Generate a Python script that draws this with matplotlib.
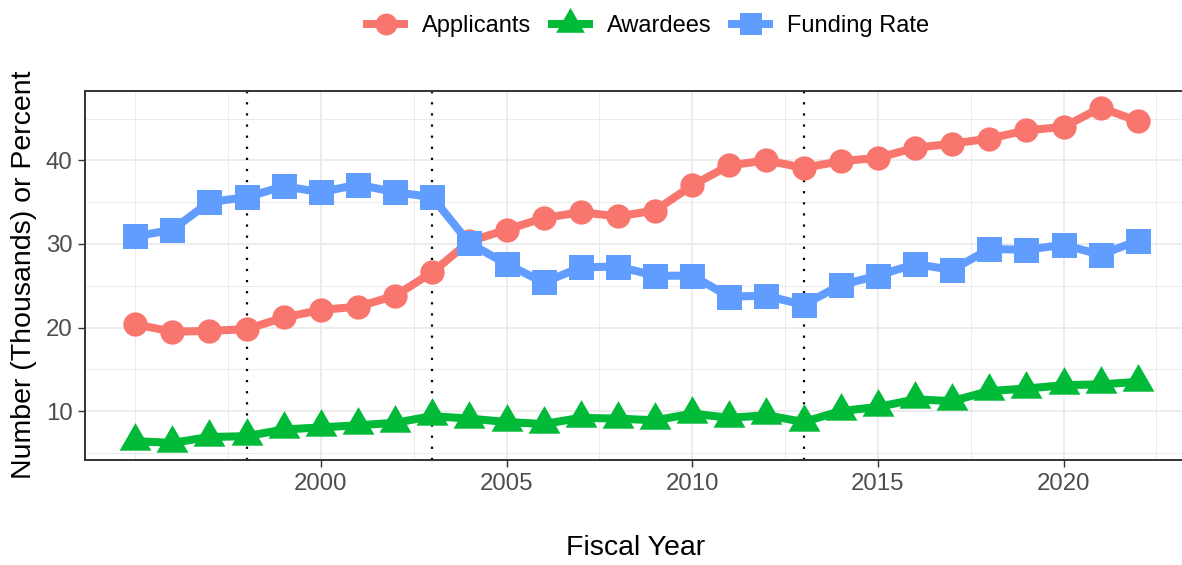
import matplotlib
matplotlib.use("Agg")
import matplotlib.pyplot as plt
from matplotlib.lines import Line2D
from matplotlib.ticker import MultipleLocator, FixedLocator
import numpy as np

plt.rcParams["font.family"] = ["Liberation Sans", "DejaVu Sans"]

# ===== DATA =====
years = list(range(1995, 2023))
applicants = [20.4, 19.5, 19.6, 19.8, 21.2, 22.1, 22.5, 23.8, 26.6, 30.3,
              31.7, 33.1, 33.8, 33.3, 34.0, 37.0, 39.4, 40.0, 39.1, 39.9,
              40.3, 41.5, 42.0, 42.6, 43.6, 44.0, 46.3, 44.7]
awardees = [6.4, 6.2, 6.9, 7.0, 7.8, 8.05, 8.3, 8.6, 9.4, 9.1,
            8.7, 8.45, 9.2, 9.1, 8.9, 9.7, 9.2, 9.5, 8.7, 10.0,
            10.5, 11.4, 11.2, 12.4, 12.7, 13.1, 13.2, 13.5]
funding_rate = [30.9, 31.7, 35.0, 35.6, 36.9, 36.2, 37.1, 36.2, 35.6, 30.1,
                27.6, 25.4, 27.2, 27.3, 26.2, 26.2, 23.7, 23.8, 22.7, 25.1,
                26.2, 27.6, 26.9, 29.4, 29.3, 29.9, 28.7, 30.4]
policy_years = [1998, 2003, 2013]
series_names = ["Applicants", "Awardees", "Funding Rate"]
x_ticks = [2000, 2005, 2010, 2015, 2020]
y_ticks = [10, 20, 30, 40]

colors = ["#F8766D", "#00BA38", "#619CFF"]
# triangle centred on its centroid, like R's pch 17
tri = [(0, 1), (-0.866, -0.5), (0.866, -0.5), (0, 1)]
markers = ["o", tri, "s"]
msizes = [17.5, 26.5, 18]

W, H = 1182, 565
fig = plt.figure(figsize=(W / 100, H / 100), dpi=100)
ax = fig.add_axes([85 / W, 1 - 460 / H, (1188 - 85) / W, (460 - 91) / H])

for name, vals, c, m, ms in zip(series_names, [applicants, awardees, funding_rate],
                                colors, markers, msizes):
    ax.plot(years, vals, color=c, lw=5.8, marker=m, ms=ms, mew=0,
            solid_joinstyle="round", solid_capstyle="round", zorder=3)

for yr in policy_years:
    ax.axvline(yr, color="black", lw=1.6, ls=(0, (1, 4)), zorder=2)

ax.set_xlim(1993.65, 2023.35)
ax.set_ylim(4.15, 48.3)

ax.xaxis.set_major_locator(FixedLocator(x_ticks))
ax.xaxis.set_minor_locator(FixedLocator(np.arange(1995, 2023, 2.5)))
ax.yaxis.set_major_locator(FixedLocator(y_ticks))
ax.yaxis.set_minor_locator(MultipleLocator(5))

ax.grid(which="major", color="#EBEBEB", lw=1.3, zorder=0)
ax.grid(which="minor", color="#EBEBEB", lw=0.7, zorder=0)
ax.set_axisbelow(True)

ax.tick_params(which="major", length=5, width=1, color="#333333",
               labelsize=17.3, labelcolor="#4D4D4D", pad=4)
ax.tick_params(which="minor", length=0)
for side in ["left", "bottom", "top", "right"]:
    ax.spines[side].set_color("#333333")
    ax.spines[side].set_linewidth(1.4)

fig.text(24 / W, 1 - 275 / H, "Number (Thousands) or Percent", rotation=90,
         ha="center", va="center", fontsize=20.5)
fig.text(636 / W, 1 - 555 / H, "Fiscal Year", ha="center", va="baseline",
         fontsize=20.5)

handles = [Line2D([], [], color=c, lw=5.8, marker=m, ms=ms * 0.9, mew=0)
           for c, m, ms in zip(colors, markers, msizes)]
fig.legend(handles, series_names, loc="center", bbox_to_anchor=(648 / W, 1 - 26 / H),
           ncol=3, frameon=False, fontsize=17, handlelength=1.6,
           handletextpad=0.75, columnspacing=0.85)

fig.savefig("out.png", dpi=100)
